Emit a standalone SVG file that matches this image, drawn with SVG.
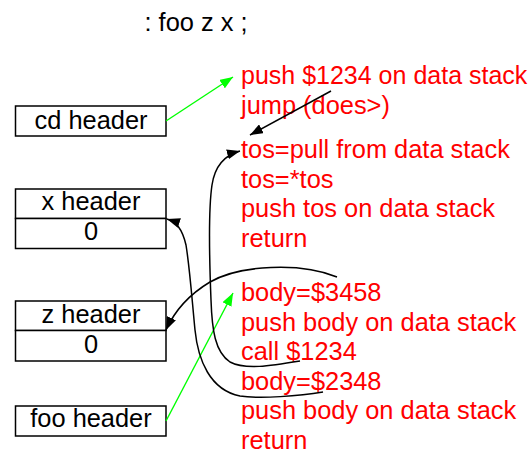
<svg xmlns="http://www.w3.org/2000/svg" width="530" height="453" viewBox="0 0 530 453">
  <style>
    text { font-family: "Liberation Sans", Arial, sans-serif; font-size: 25.4px; }
    .hdr { fill: #000; text-anchor: middle; }
    .code { fill: #ff0000; }
    .tight { font-size: 25px; }
    .box { fill: #fff; stroke: #000; stroke-width: 1.5; }
    .ptr { fill: none; stroke: #000; stroke-width: 1.5; marker-end: url(#headBlack); }
    .link { fill: none; stroke: #00ff00; stroke-width: 1.4; marker-end: url(#headGreen); }
  </style>
  <defs>
    <marker id="headBlack" markerUnits="userSpaceOnUse" markerWidth="13" markerHeight="10" refX="13" refY="5" orient="auto">
      <path d="M0,0 L13,5 L0,10 z" fill="#000"/>
    </marker>
    <marker id="headGreen" markerUnits="userSpaceOnUse" markerWidth="13" markerHeight="10" refX="13" refY="5" orient="auto">
      <path d="M0,0 L13,5 L0,10 z" fill="#00ff00"/>
    </marker>
  </defs>

  <rect width="530" height="453" fill="#fff"/>

  <g id="title">
    <text x="196" y="31" class="hdr">: foo z x ;</text>
  </g>

  <g id="cd-header">
    <rect class="box" x="15.5" y="106" width="150.5" height="30"/>
    <text x="91" y="129" class="hdr">cd header</text>
  </g>

  <g id="x-header">
    <rect class="box" x="15.5" y="189" width="150.5" height="29.5"/>
    <rect class="box" x="15.5" y="218.5" width="150.5" height="30"/>
    <text x="91" y="210" class="hdr">x header</text>
    <text x="91" y="240" class="hdr">0</text>
  </g>

  <g id="z-header">
    <rect class="box" x="15.5" y="301" width="150.5" height="29.5"/>
    <rect class="box" x="15.5" y="330.5" width="150.5" height="30.5"/>
    <text x="91" y="323" class="hdr">z header</text>
    <text x="91" y="353" class="hdr">0</text>
  </g>

  <g id="foo-header">
    <rect class="box" x="15.5" y="406" width="150.5" height="30"/>
    <text x="91" y="427" class="hdr">foo header</text>
  </g>

  <g id="cd-code">
    <text x="241" y="84" class="code tight">push $1234 on data stack</text>
    <text x="241" y="113.5" class="code">jump (does&gt;)</text>
  </g>

  <g id="does-code">
    <text x="241" y="158" class="code">tos=pull from data stack</text>
    <text x="241" y="187.5" class="code">tos=*tos</text>
    <text x="241" y="217" class="code">push tos on data stack</text>
    <text x="241" y="246.5" class="code">return</text>
  </g>

  <g id="foo-code">
    <text x="241" y="301" class="code">body=$3458</text>
    <text x="241" y="330.5" class="code">push body on data stack</text>
    <text x="241" y="360" class="code">call $1234</text>
    <text x="241" y="389.5" class="code">body=$2348</text>
    <text x="241" y="419" class="code">push body on data stack</text>
    <text x="241" y="448.5" class="code">return</text>
  </g>

  <g id="connectors">
    <path class="link" d="M166,121 L233,77"/>
    <path class="link" d="M166,421 L233,293"/>
    <path class="ptr" d="M331,91 L250,135"/>
    <path class="ptr" d="M300,361 C270,366 245,370 230,362 C215,352 212,330 211,300 C209,250 209,205 212,185 C215,165 225,155 240,151"/>
    <path class="ptr" d="M323,392 C300,396 260,399 240,396 C210,390 198,360 195,330 C192,300 190,270 186,245 C182,228 176,222 167,219"/>
    <path class="ptr" d="M337,277 C300,262 240,265 210,282 C190,294 175,310 166,330"/>
  </g>
</svg>
